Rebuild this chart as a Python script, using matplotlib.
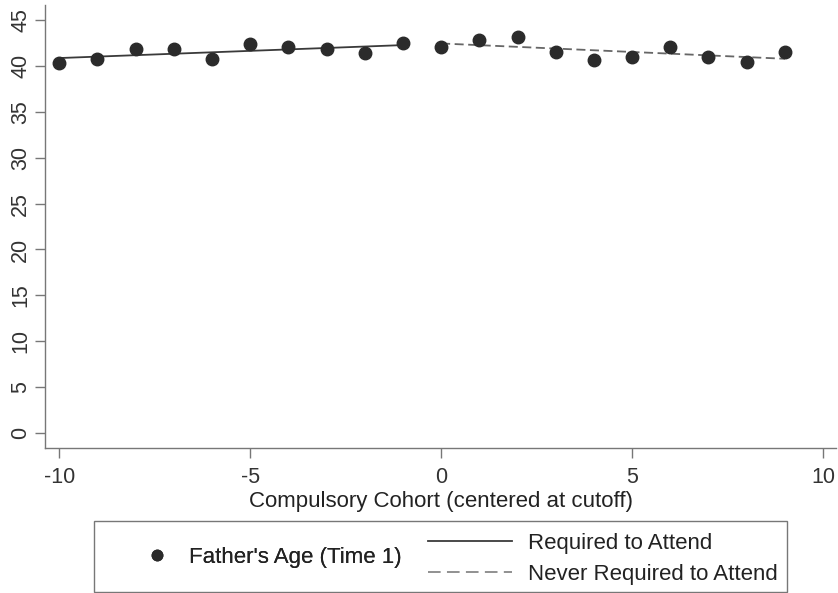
import numpy as np
import matplotlib.pyplot as plt
from matplotlib.lines import Line2D
from matplotlib.patches import Rectangle

plt.rcParams['font.family'] = ['Liberation Sans', 'DejaVu Sans']
plt.rcParams['axes.unicode_minus'] = False

# cohort relative to the cutoff, and mean father's age per cohort
cohort_req = [-10, -9, -8, -7, -6, -5, -4, -3, -2, -1]
age_req = [40.3, 40.8, 41.8, 41.85, 40.75, 42.35, 42.1, 41.8, 41.4, 42.45]
cohort_never = [0, 1, 2, 3, 4, 5, 6, 7, 8, 9]
age_never = [42.05, 42.8, 43.15, 41.55, 40.6, 41.0, 42.05, 41.0, 40.4, 41.5]

x_ticks = [-10, -5, 0, 5, 10]
y_ticks = [0, 5, 10, 15, 20, 25, 30, 35, 40, 45]

fig = plt.figure(figsize=(8.38, 5.93), dpi=100)
ax = fig.add_axes([0.0537, 0.2445, 0.944, 0.747])

dot_color = '#2b2b2b'
ax.plot(cohort_req + cohort_never, age_req + age_never, 'o', color=dot_color,
        markersize=9, zorder=3)

# linear fit on each side of the cutoff
fit_req = np.polyfit(cohort_req, age_req, 1)
fit_never = np.polyfit(cohort_never, age_never, 1)
ax.plot(cohort_req, np.polyval(fit_req, cohort_req), '-', color='#3a3a3a', lw=1.3)
ax.plot(cohort_never, np.polyval(fit_never, cohort_never), color='#666666',
        lw=1.3, dashes=(5, 2.5))

ax.set_xlim(-10.37, 10.34)
ax.set_ylim(-1.63, 46.63)
ax.set_xticks(x_ticks)
ax.set_yticks(y_ticks)
ax.tick_params(axis='both', labelsize=15.5, labelcolor='#333333', length=7,
               width=1, direction='out', color='#777777')
ax.tick_params(axis='x', pad=7)
ax.tick_params(axis='y', pad=3)
plt.setp(ax.get_yticklabels(), rotation=90, va='center')
for s in ['top', 'right']:
    ax.spines[s].set_visible(False)
for s in ['left', 'bottom']:
    ax.spines[s].set_color('#777777')
    ax.spines[s].set_linewidth(1)
ax.set_xlabel('Compulsory Cohort (centered at cutoff)', fontsize=16,
              color='#222222', labelpad=2)

# legend box below the axes
fig.patches.append(Rectangle((94 / 838, 1 - 592 / 593), (787 - 94) / 838,
                             (592 - 521) / 593, transform=fig.transFigure,
                             fill=False, edgecolor='#777777', lw=1))
dot_handle = Line2D([], [], marker='o', ls='none', color=dot_color, markersize=7.5)
leg1 = fig.legend([dot_handle], ["Father's Age (Time 1)"], loc='center left',
                  bbox_to_anchor=(147 / 838, 1 - 557 / 593), frameon=False,
                  fontsize=16, handlelength=0.9, handletextpad=1.0, borderpad=0,
                  borderaxespad=0, labelcolor='#222222')
line_solid = Line2D([], [], color='#3a3a3a', lw=1.3)
line_dash = Line2D([], [], color='#888888', lw=1.3, dashes=(7, 3.5))
fig.legend([line_solid, line_dash], ['Required to Attend', 'Never Required to Attend'],
           loc='center left', bbox_to_anchor=(428 / 838, 1 - 559 / 593),
           frameon=False, fontsize=16, handlelength=3.8, handletextpad=0.68,
           labelspacing=0.45, borderpad=0, borderaxespad=0, labelcolor='#222222')
fig.add_artist(leg1)

fig.savefig('out.png', dpi=100)
